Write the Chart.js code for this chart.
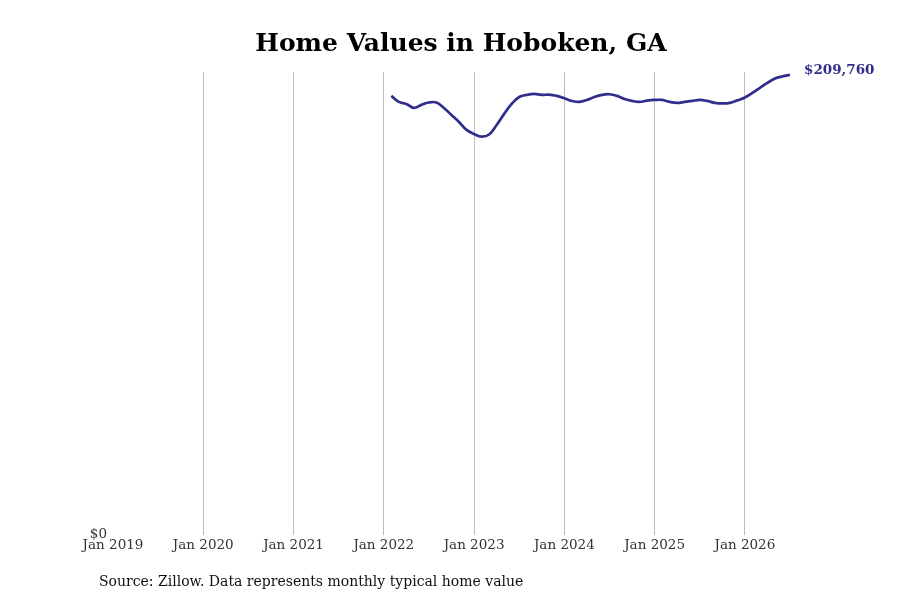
<!DOCTYPE html>
<html>
<head>
<meta charset="utf-8">
<script src="https://cdn.jsdelivr.net/npm/chart.js@4.4.1/dist/chart.umd.min.js"></script>
<style>
  body { margin: 0; background: #fff; }
  #wrap { position: relative; width: 900px; height: 600px; }
  #title {
    position: absolute; left: 0; width: 922px; top: 28px; text-align: center;
    font: bold 25px "DejaVu Serif", serif; color: #000;
  }
  #source {
    position: absolute; left: 99px; top: 573px;
    font: 14px "DejaVu Serif", serif; color: #111;
  }
</style>
</head>
<body>
<div id="wrap">
  <canvas id="myChart" width="900" height="600"></canvas>
  <div id="title">Home Values in Hoboken, GA</div>
  <div id="source">Source: Zillow. Data represents monthly typical home value</div>
</div>
<script>
// months counted from Jan 2019 (0 = Jan 2019)
const startMonth = 37; // Feb 2022
const homeValues = [
  200200, 197450, 196550, 194700, 196100, 197200, 197200, 194700, 191500, 188300, 184700,
  182850, 181600, 182600, 186950, 192000, 196550, 199700, 200650, 201100, 200650, 200800, 200200,
  199150, 197900, 197450, 198350, 199700, 200650, 200950, 200200, 198800, 197900, 197450, 198050,
  198350, 198350, 197450, 197000, 197450, 197900, 198350, 197900, 197000, 196750, 197000, 198150,
  199500, 201550, 203850, 206100, 208150, 209100, 209760
];
const tickYears = [2019, 2020, 2021, 2022, 2023, 2024, 2025, 2026];

const lineColor = "#2f2e8c";
const points = homeValues.map((v, i) => ({ x: startMonth + i, y: v }));
const lastPoint = points[points.length - 1];

const endLabel = {
  id: "endLabel",
  afterDatasetsDraw(chart) {
    const meta = chart.getDatasetMeta(0);
    const pt = meta.data[meta.data.length - 1];
    const c = chart.ctx;
    c.save();
    c.font = "bold 13.5px 'DejaVu Serif'";
    c.fillStyle = lineColor;
    c.textBaseline = "middle";
    c.fillText("$" + lastPoint.y.toLocaleString("en-US"), pt.x + 14, pt.y - 4);
    c.restore();
  },
};

const ctx = document.getElementById("myChart").getContext("2d");
const myChart = new Chart(ctx, {
  type: "line",
  data: {
    datasets: [
      {
        data: points,
        borderColor: lineColor,
        borderWidth: 2.7,
        pointRadius: 0,
        fill: false,
        tension: 0.4,
      },
    ],
  },
  options: {
    responsive: false,
    animation: false,
    layout: { padding: { left: 83, right: 110, top: 72, bottom: 43 } },
    plugins: { legend: { display: false }, tooltip: { enabled: false } },
    scales: {
      x: {
        type: "linear",
        min: 0,
        max: startMonth + homeValues.length - 1,
        afterBuildTicks: (scale) => {
          scale.ticks = tickYears.map((y) => ({ value: (y - 2019) * 12 }));
        },
        ticks: {
          autoSkip: false,
          maxRotation: 0,
          padding: 3,
          color: "#333",
          font: { family: "DejaVu Serif", size: 13.5 },
          callback: (v) => "Jan " + (2019 + v / 12),
        },
        grid: {
          drawTicks: false,
          color: (c) => (c.tick && c.tick.value === 0 ? "rgba(0,0,0,0)" : "#bdbdbd"),
          lineWidth: 1,
        },
        border: { display: false },
      },
      y: {
        min: 0,
        max: 211100,
        afterBuildTicks: (scale) => {
          scale.ticks = [{ value: 0 }];
        },
        afterFit: (scale) => {
          scale.width = 30;
        },
        ticks: {
          padding: 6,
          color: "#333",
          font: { family: "DejaVu Serif", size: 13.5 },
          callback: (v) => "$" + v,
        },
        grid: { display: false, drawTicks: false },
        border: { display: false },
      },
    },
  },
  plugins: [endLabel],
});
</script>
</body>
</html>
